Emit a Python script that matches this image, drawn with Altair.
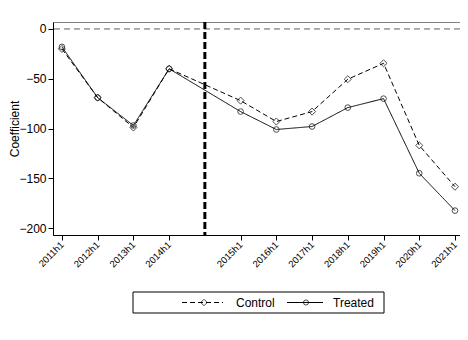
import altair as alt
import pandas as pd

# ---- data ----
periods = ["2011h1", "2012h1", "2013h1", "2014h1", "2015h1", "2016h1",
           "2017h1", "2018h1", "2019h1", "2020h1", "2021h1"]
period_pos = [0, 1, 2, 3, 5, 6, 7, 8, 9, 10, 11]   # gap after 2014h1
event_pos = 4
control = [-20, -69, -99, -40, -72, -93, -83, -50.5, -34.5, -117, -158.5]
treated = [-18, -69, -97, -40, -83, -101, -98, -79, -70, -145, -182.5]
series = ["Control", "Treated"]
y_ticks = [0, -50, -100, -150, -200]

rows = []
for name, vals in zip(series, [control, treated]):
    for p, pos, v in zip(periods, period_pos, vals):
        rows.append({"group": name, "period": p, "pos": pos, "value": v})
df = pd.DataFrame(rows)

FONT = "Liberation Sans"
W, H = 407, 213

label_expr = ("[" + ",".join(f"'{p}'" for p in periods) + "][indexof(["
              + ",".join(str(p) for p in period_pos) + "], datum.value)]")

x_enc = alt.X("pos:Q", scale=alt.Scale(domain=[-0.25, 11.14], nice=False, zero=False),
              axis=alt.Axis(values=period_pos, labelExpr=label_expr, title=None,
                            labelAngle=-45, labelAlign="right", labelBaseline="middle",
                            labelFontSize=9.5, labelPadding=3, tickSize=5,
                            grid=False, domainColor="black", tickColor="black",
                            labelColor="black", labelFont=FONT))
y_enc = alt.Y("value:Q", scale=alt.Scale(domain=[-207, 7], nice=False, zero=False),
              axis=alt.Axis(values=y_ticks, title="Coefficient", grid=False,
                            labelFontSize=12, titleFontSize=12, titleFontWeight="normal",
                            titleFont=FONT, labelFont=FONT, tickSize=5, labelPadding=2,
                            titleX=-39, titleBaseline="middle", titleAngle=-90,
                            domainColor="black", tickColor="black",
                            labelColor="black", titleColor="black"))

base = alt.Chart(df)

zero_line = alt.Chart(pd.DataFrame({"v": [0]})).mark_rule(
    color="#5a5a5a", strokeDash=[6, 4], strokeWidth=1
).encode(y=alt.Y("v:Q"))

event_line = alt.Chart(pd.DataFrame({"e": [event_pos]})).mark_rule(
    color="black", strokeDash=[7, 3], strokeWidth=3
).encode(x=alt.X("e:Q"))

lines = base.mark_line(color="black", strokeWidth=1).encode(
    x=x_enc, y=y_enc,
    strokeDash=alt.StrokeDash("group:N", scale=alt.Scale(domain=series, range=[[5, 3], [1, 0]]),
                              legend=None),
    detail="group:N",
)

points = base.mark_point(color="black", filled=False, strokeWidth=1).encode(
    x="pos:Q", y="value:Q",
    shape=alt.Shape("group:N", scale=alt.Scale(domain=series, range=["diamond", "circle"]),
                    legend=None),
    size=alt.Size("group:N", scale=alt.Scale(domain=series, range=[50, 32]), legend=None),
)

one = pd.DataFrame({"k": [0]})
leg_box = alt.Chart(one).mark_rect(fill="white", stroke="black", strokeWidth=1).encode(
    x=alt.value(80), x2=alt.value(331), y=alt.value(270), y2=alt.value(291))
leg_c_line = alt.Chart(one).mark_rule(color="black", strokeDash=[5, 3], strokeWidth=1).encode(
    x=alt.value(129), x2=alt.value(170), y=alt.value(280.5))
leg_c_pt = alt.Chart(one).mark_point(shape="diamond", filled=False, color="black", size=42,
                                     strokeWidth=1).encode(x=alt.value(151), y=alt.value(280.5))
leg_c_txt = alt.Chart(one).mark_text(align="left", baseline="middle", font=FONT, fontSize=12,
                                     color="black").encode(
    x=alt.value(183), y=alt.value(281), text=alt.value(series[0]))
leg_t_line = alt.Chart(one).mark_rule(color="black", strokeWidth=1).encode(
    x=alt.value(234), x2=alt.value(270), y=alt.value(280.5))
leg_t_pt = alt.Chart(one).mark_point(shape="circle", filled=False, color="black", size=26,
                                     strokeWidth=1).encode(x=alt.value(253), y=alt.value(280.5))
leg_t_txt = alt.Chart(one).mark_text(align="left", baseline="middle", font=FONT, fontSize=12,
                                     color="black").encode(
    x=alt.value(280), y=alt.value(281), text=alt.value(series[1]))

chart = alt.layer(
    zero_line, event_line, lines, points,
    leg_box, leg_c_line, leg_c_pt, leg_c_txt, leg_t_line, leg_t_pt, leg_t_txt,
).properties(
    width=W, height=H,
    autosize=alt.AutoSizeParams(type="none"),
    padding={"left": 45, "top": 14, "right": 0, "bottom": 80},
    background="white",
).configure_view(
    stroke="#808080", strokeWidth=1
)

chart.save("out.html", embed_options={"renderer": "svg", "actions": False})
